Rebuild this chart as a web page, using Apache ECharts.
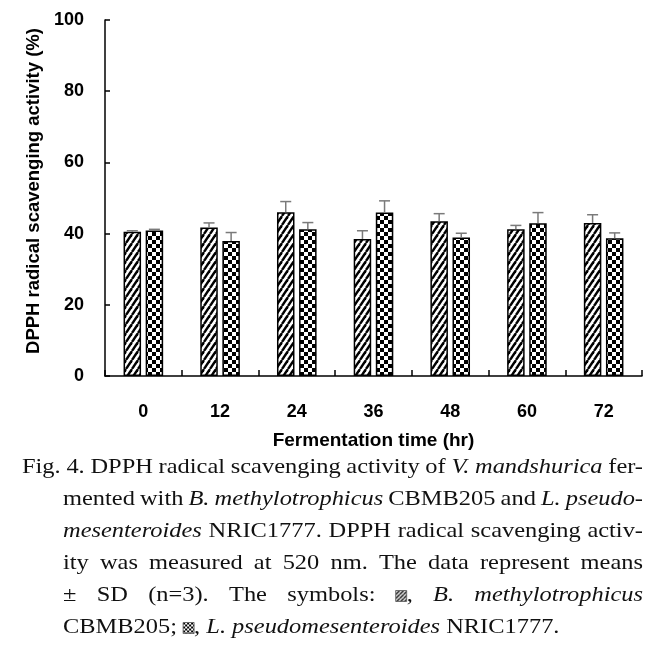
<!DOCTYPE html>
<html>
<head>
<meta charset="utf-8">
<script src="https://cdn.jsdelivr.net/npm/echarts@6/dist/echarts.min.js"></script>
<style>
html,body{margin:0;padding:0;background:#fff;}
#chart{width:665px;height:665px;}
</style>
</head>
<body>
<div id="chart"></div>
<script>
// ---- data ----
const categories = ['0', '12', '24', '36', '48', '60', '72'];
const bMethMeans = [40.5, 41.7, 46.0, 38.5, 43.5, 41.2, 43.0];
const bMethSD    = [0.3, 1.3, 3.0, 2.3, 2.1, 1.1, 2.3];
const lPseuMeans = [40.9, 37.9, 41.2, 45.9, 38.9, 42.9, 38.7];
const lPseuSD    = [0.3, 2.4, 1.9, 3.3, 1.2, 3.0, 1.5];
const yMin = 0, yMax = 100, yStep = 20;
const xAxisTitle = 'Fermentation time (hr)';
const yAxisTitle = 'DPPH radical scavenging activity (%)';
const captionLines = [
  [{t: 'Fig. 4. DPPH radical scavenging activity of '}, {t: 'V. mandshurica', i: 1}, {t: ' fer-'}],
  [{t: 'mented with '}, {t: 'B. methylotrophicus', i: 1}, {t: ' CBMB205 and '}, {t: 'L. pseudo-', i: 1}],
  [{t: 'mesenteroides', i: 1}, {t: ' NRIC1777. DPPH radical scavenging activ-'}],
  [{t: 'ity was measured at 520 nm. The data represent means'}],
  [{t: '± SD (n=3). The symbols: '}, {icon: 'hatch'}, {t: ', '}, {t: 'B. methylotrophicus', i: 1}],
  [{t: 'CBMB205; '}, {icon: 'checker'}, {t: ', '}, {t: 'L. pseudomesenteroides', i: 1}, {t: ' NRIC1777.'}]
];

// ---- patterns ----
function hatchTile(w, h, lw) {
  const c = document.createElement('canvas');
  c.width = w; c.height = h;
  const g = c.getContext('2d');
  g.fillStyle = '#fff'; g.fillRect(0, 0, w, h);
  g.strokeStyle = '#000'; g.lineWidth = lw;
  for (let k = -1; k <= 1; k++) {
    g.beginPath();
    g.moveTo(k * w, h); g.lineTo(k * w + w, 0);
    g.stroke();
  }
  return c;
}
function checkerTile(s) {
  const c = document.createElement('canvas');
  c.width = 2 * s; c.height = 2 * s;
  const g = c.getContext('2d');
  g.fillStyle = '#fff'; g.fillRect(0, 0, 2 * s, 2 * s);
  g.fillStyle = '#000';
  g.fillRect(0, 0, s, s); g.fillRect(s, s, s, s);
  return c;
}
const hatchBig = hatchTile(6, 9, 2.4);
const checkBig = checkerTile(4);
const hatchSmall = hatchTile(4, 4, 1.4);
const checkSmall = checkerTile(2);

// ---- layout constants ----
const gridL = 105, gridR = 23, gridT = 20, gridB = 289;
const barW = 17.5, gapPx = 4.6;
const errOffset = (barW + gapPx) / 2;
const capHalf = 5.5;
const errColor = '#7a7a7a';

function errSeries(name, means, sds, sign) {
  return {
    type: 'custom',
    name: name,
    z: 5,
    data: means.map((m, i) => [i, m, sds[i]]),
    encode: {x: 0, y: 1},
    renderItem: function (params, api) {
      const i = api.value(0), m = api.value(1), sd = api.value(2);
      const b = api.coord([i, m]);
      const t = api.coord([i, m + sd]);
      const x = b[0] + sign * errOffset;
      const st = {stroke: errColor, lineWidth: 1.5};
      return {
        type: 'group',
        children: [
          {type: 'line', shape: {x1: x, y1: b[1], x2: x, y2: t[1]}, style: st},
          {type: 'line', shape: {x1: x - capHalf, y1: t[1], x2: x + capHalf, y2: t[1]}, style: st}
        ]
      };
    }
  };
}

// ---- caption layout (justified) ----
const capFontSize = 22;
const capScaleX = 1.11;
const capFam = '"Liberation Serif", "Times New Roman", serif';
const iconSize = 11;
const mctx = document.createElement('canvas').getContext('2d');
function fontOf(it) { return (it ? 'italic ' : '') + capFontSize + 'px ' + capFam; }
function measure(seg) {
  if (seg.icon) return iconSize;
  mctx.font = fontOf(seg.i);
  return mctx.measureText(seg.t).width * capScaleX;
}
function tokenize(line) {
  const words = []; let cur = [];
  line.forEach(seg => {
    if (seg.icon) { cur.push(seg); return; }
    seg.t.split(/( +)/).forEach(p => {
      if (p === '') return;
      if (/^ +$/.test(p)) { if (cur.length) { words.push(cur); cur = []; } }
      else cur.push({t: p, i: seg.i});
    });
  });
  if (cur.length) words.push(cur);
  return words;
}
const capX0 = 22, capXi = 63, capXR = 643, capY0 = 467, capDY = 32;
const captionGraphics = [];
mctx.font = fontOf(0);
const spaceW = mctx.measureText(' ').width * capScaleX;
captionLines.forEach((line, li) => {
  const words = tokenize(line);
  const widths = words.map(w => w.reduce((s, seg) => s + measure(seg), 0));
  const total = widths.reduce((a, b) => a + b, 0);
  const xs = li === 0 ? capX0 : capXi;
  const justify = li < captionLines.length - 1;
  const gap = justify ? (capXR - xs - total) / (words.length - 1) : spaceW;
  const y = capY0 + li * capDY;
  let x = xs;
  words.forEach((w, wi) => {
    let xx = x;
    w.forEach(seg => {
      const sw = measure(seg);
      if (seg.icon) {
        captionGraphics.push({
          type: 'rect', x: xx, y: y - iconSize / 2 + 1,
          shape: {x: 0, y: 0, width: iconSize, height: iconSize},
          style: {fill: {image: seg.icon === 'hatch' ? hatchSmall : checkSmall, repeat: 'repeat'}, stroke: '#555', lineWidth: 0.8}
        });
      } else {
        captionGraphics.push({
          type: 'text', x: xx, y: y, scaleX: capScaleX,
          style: {text: seg.t, font: fontOf(seg.i), fill: '#111', align: 'left', verticalAlign: 'middle'}
        });
      }
      xx += sw;
    });
    x += widths[wi] + gap;
  });
});

const axisFont = '"Liberation Sans", Arial, sans-serif';
const chart = echarts.init(document.getElementById('chart'), null, {renderer: 'canvas'});
chart.setOption({
  backgroundColor: '#fff',
  animation: false,
  grid: {left: gridL, right: gridR, top: gridT, bottom: gridB, containLabel: false},
  xAxis: {
    type: 'category',
    data: categories,
    boundaryGap: true,
    name: xAxisTitle,
    nameLocation: 'middle',
    nameGap: 55,
    nameTextStyle: {fontFamily: axisFont, fontWeight: 'bold', fontSize: 19, color: '#000'},
    axisLine: {lineStyle: {color: '#000', width: 1.5}},
    axisTick: {show: true, inside: true, length: 6, alignWithLabel: false, lineStyle: {color: '#000', width: 1.5}},
    axisLabel: {fontFamily: axisFont, fontWeight: 'bold', fontSize: 18, color: '#000', margin: 27},
    splitLine: {show: false}
  },
  yAxis: {
    type: 'value',
    min: yMin, max: yMax, interval: yStep,
    name: yAxisTitle,
    nameLocation: 'middle',
    nameGap: 49,
    nameRotate: 90,
    nameTextStyle: {fontFamily: axisFont, fontWeight: 'bold', fontSize: 18.5, color: '#000', padding: [0, 0, 0, 14]},
    axisLine: {show: true, lineStyle: {color: '#000', width: 1.5}},
    axisTick: {show: true, inside: true, length: 5, lineStyle: {color: '#000', width: 1.5}},
    axisLabel: {fontFamily: axisFont, fontWeight: 'bold', fontSize: 18, color: '#000', margin: 21},
    splitLine: {show: false}
  },
  series: [
    {
      type: 'bar', name: 'B. methylotrophicus CBMB205',
      data: bMethMeans, barWidth: barW, barGap: (gapPx / barW * 100).toFixed(1) + '%',
      itemStyle: {color: {image: hatchBig, repeat: 'repeat'}, borderColor: '#000', borderWidth: 1.5}
    },
    {
      type: 'bar', name: 'L. pseudomesenteroides NRIC1777',
      data: lPseuMeans, barWidth: barW,
      itemStyle: {color: {image: checkBig, repeat: 'repeat'}, borderColor: '#000', borderWidth: 1.5}
    },
    errSeries('B SD', bMethMeans, bMethSD, -1),
    errSeries('L SD', lPseuMeans, lPseuSD, 1)
  ],
  graphic: captionGraphics
});
</script>
</body>
</html>
